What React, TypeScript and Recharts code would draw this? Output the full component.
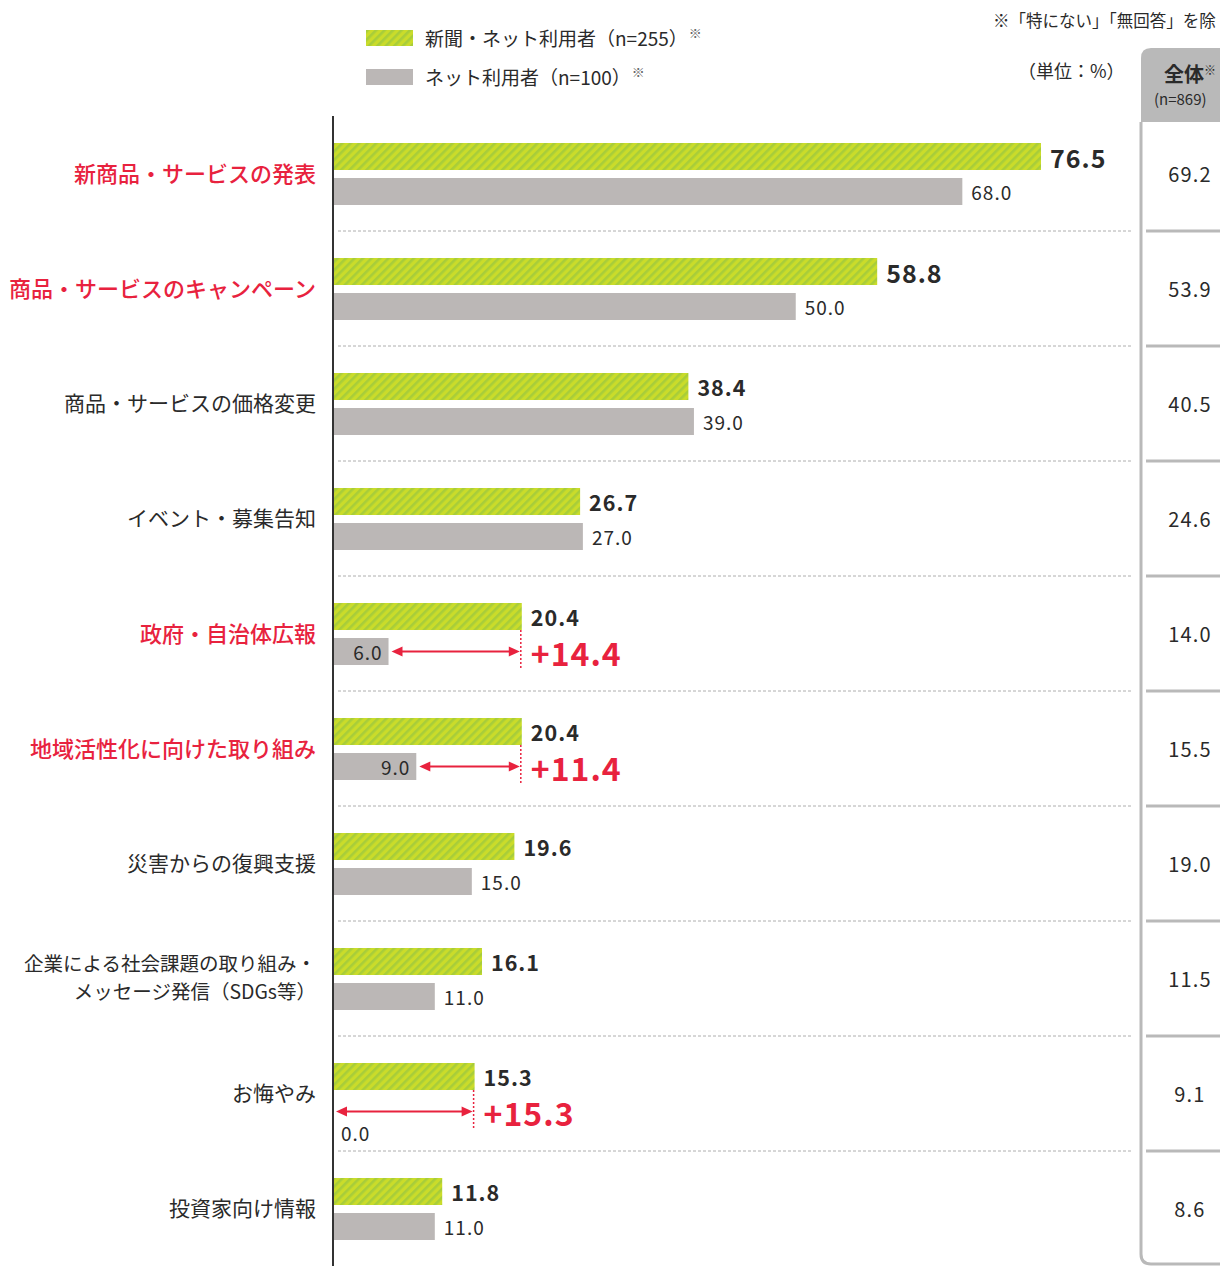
import type React from 'react';
import {
  Bar,
  BarChart,
  LabelList,
  ReferenceArea,
  XAxis,
  YAxis,
} from 'recharts';

// ============ Data ============

const CATEGORIES = [
  '新商品・サービスの発表',
  '商品・サービスのキャンペーン',
  '商品・サービスの価格変更',
  'イベント・募集告知',
  '政府・自治体広報',
  '地域活性化に向けた取り組み',
  '災害からの復興支援',
  '企業による社会課題の取り組み・\nメッセージ発信（SDGs等）',
  'お悔やみ',
  '投資家向け情報',
];

// 新聞・ネット利用者 (n=255)
const PAPER_NET = [76.5, 58.8, 38.4, 26.7, 20.4, 20.4, 19.6, 16.1, 15.3, 11.8];
// ネット利用者 (n=100)
const NET_ONLY = [68.0, 50.0, 39.0, 27.0, 6.0, 9.0, 15.0, 11.0, 0.0, 11.0];
// 全体 (n=869)
const TOTAL = [69.2, 53.9, 40.5, 24.6, 14.0, 15.5, 19.0, 11.5, 9.1, 8.6];

const RED_LABEL = [true, true, false, false, true, true, false, false, false, false];
const BIG_VALUE = [true, true, false, false, false, false, false, false, false, false];
const SHOW_GAP = [false, false, false, false, true, true, false, false, true, false];

const SERIES_NAMES = ['新聞・ネット利用者（n=255）', 'ネット利用者（n=100）'];

const data = CATEGORIES.map((name, i) => ({
  name,
  paperNet: PAPER_NET[i],
  netOnly: NET_ONLY[i],
}));

// ============ Styles ============

const FONT = "'Noto Sans CJK JP', 'Noto Sans', sans-serif";
const RED = '#e8223e';
const GRAY = '#bbb7b6';
const TEXT = '#2a2a2a';
const FRAME = '#b9b9b9';
const BAR_SIZE = 27;
const BAR_GAP = 8;
const TABLE_W = 87;

// ============ Pattern ============

const Hatch: React.FC<{ id: string }> = ({ id }) => (
  <pattern id={id} patternUnits="userSpaceOnUse" width={6} height={6} patternTransform="rotate(45)">
    <rect width={6} height={6} fill="#cadc2a" />
    <rect width={2.6} height={6} fill="#a8cd3a" />
  </pattern>
);

// ============ Ticks / labels ============

const CategoryTick = (props: any) => {
  const { x, y, payload } = props;
  const idx = CATEGORIES.indexOf(payload.value);
  const lines = String(payload.value).split('\n');
  const red = RED_LABEL[idx];
  const multi = lines.length > 1;
  const step = 28;
  return (
    <g>
      {lines.map((ln, i) => (
        <text
          key={i}
          x={x}
          y={y - 2 + (i - (lines.length - 1) / 2) * step}
          textAnchor="end"
          dominantBaseline="central"
          fontFamily={FONT}
          fontSize={red ? 22 : multi ? 19.5 : 21}
          fontWeight={red ? 500 : 400}
          fill={red ? RED : TEXT}
        >
          {ln}
        </text>
      ))}
    </g>
  );
};

const TableTick = (props: any) => {
  const { x, y, payload } = props;
  const idx = CATEGORIES.indexOf(payload.value);
  if (idx < 0) return null;
  return (
    <text
      x={x + 57}
      y={y}
      textAnchor="middle"
      dominantBaseline="central"
      fontFamily={FONT}
      fontSize={20}
      letterSpacing={1.2}
      fill={TEXT}
    >
      {TOTAL[idx].toFixed(1)}
    </text>
  );
};

const TableFrame = (props: any) => {
  const vb = props.viewBox || {};
  const x0 = vb.x + 8;
  const top = vb.y - 68;
  const hb = vb.y + 6;
  const bottom = vb.y + vb.height - 2;
  const right = vb.x + vb.width + 10;
  return (
    <g>
      <path
        d={`M${x0} ${hb} L${x0} ${top + 10} Q${x0} ${top} ${x0 + 10} ${top} L${right} ${top} L${right} ${hb} Z`}
        fill={FRAME}
      />
      <path
        d={`M${x0} ${hb} L${x0} ${bottom - 10} Q${x0} ${bottom} ${x0 + 10} ${bottom} L${right} ${bottom}`}
        fill="none"
        stroke={FRAME}
        strokeWidth={3}
      />
      <text x={x0 + 23} y={top + 34} fontFamily={FONT} fontSize={20} fontWeight={700} fill={TEXT}>
        全体<tspan fontSize={12} fontWeight={400} dy={-7}>※</tspan>
      </text>
      <text x={x0 + 13} y={top + 57} fontFamily={FONT} fontSize={15} fill={TEXT}>
        (n=869)
      </text>
    </g>
  );
};

// dashed row separator in the plot + solid separator in the table
const RowSeparator = (props: any) => {
  const { x, y, width, height } = props;
  const yy = y + height;
  return (
    <g>
      <line x1={x + 5} x2={x + width} y1={yy} y2={yy} stroke="#aeaeae" strokeDasharray="3 2" />
      <line x1={x + width + 13} x2={x + width + TABLE_W + 4} y1={yy} y2={yy} stroke={FRAME} strokeWidth={3} />
    </g>
  );
};

const Arrow: React.FC<{ x1: number; x2: number; y: number }> = ({ x1, x2, y }) => (
  <g>
    <line x1={x1 + 8} x2={x2 - 8} y1={y} y2={y} stroke={RED} strokeWidth={2} />
    <polygon points={`${x1},${y} ${x1 + 11},${y - 5} ${x1 + 11},${y + 5}`} fill={RED} />
    <polygon points={`${x2},${y} ${x2 - 11},${y - 5} ${x2 - 11},${y + 5}`} fill={RED} />
  </g>
);

const PaperNetLabel = (props: any) => {
  const { x, y, width, height, value } = props;
  const idx = CATEGORIES.indexOf(value);
  if (idx < 0) return null;
  const a = PAPER_NET[idx];
  const b = NET_ONLY[idx];
  const end = x + width;
  const cy = y + height / 2;
  const grayEnd = x + (width * b) / a;
  const grayCy = y + height + BAR_GAP + height / 2;
  return (
    <g>
      <text
        x={end + 9}
        y={cy}
        dominantBaseline="central"
        fontFamily={FONT}
        fontSize={BIG_VALUE[idx] ? 25 : 21.5}
        fontWeight={700}
        letterSpacing={1}
        fill={TEXT}
      >
        {a.toFixed(1)}
      </text>
      {SHOW_GAP[idx] && (
        <g>
          <line
            x1={end - 1}
            x2={end - 1}
            y1={y + height}
            y2={y + 2 * height + BAR_GAP + 4}
            stroke={RED}
            strokeWidth={1.5}
            strokeDasharray="2 2"
          />
          <Arrow x1={grayEnd + 3} x2={end - 2} y={grayCy} />
          <text
            x={end + 9}
            y={grayCy}
            dominantBaseline="central"
            fontFamily={FONT}
            fontSize={32}
            fontWeight={700}
            letterSpacing={1}
            fill={RED}
          >
            +{(a - b).toFixed(1)}
          </text>
          {b === 0 && (
            <text
              x={x + 8}
              y={grayCy + height / 2 + 7}
              dominantBaseline="central"
              fontFamily={FONT}
              fontSize={19}
              letterSpacing={1}
              fill={TEXT}
            >
              {b.toFixed(1)}
            </text>
          )}
        </g>
      )}
    </g>
  );
};

const NetOnlyLabel = (props: any) => {
  const { x, y, width, height, value } = props;
  const idx = CATEGORIES.indexOf(value);
  if (idx < 0) return null;
  const b = NET_ONLY[idx];
  if (b === 0) return null; // drawn with the upper bar's annotation
  const end = x + width;
  const inside = SHOW_GAP[idx];
  return (
    <text
      x={inside ? end - 6 : end + 9}
      y={y + height / 2}
      textAnchor={inside ? 'end' : 'start'}
      dominantBaseline="central"
      fontFamily={FONT}
      fontSize={19}
      letterSpacing={1}
      fill={TEXT}
    >
      {b.toFixed(1)}
    </text>
  );
};

// ============ Header / legend (HTML) ============

const LegendBlock: React.FC = () => (
  <div style={{ position: 'absolute', left: 366, top: 26, fontFamily: FONT, color: TEXT, fontSize: 19 }}>
    {SERIES_NAMES.map((name, i) => (
      <div key={name} style={{ display: 'flex', alignItems: 'center', height: 24, marginBottom: 15 }}>
        <svg width={47} height={16} style={{ marginRight: 12 }}>
          <defs>
            <Hatch id={`legend-hatch-${i}`} />
          </defs>
          <rect width={47} height={16} fill={i === 0 ? `url(#legend-hatch-${i})` : GRAY} />
        </svg>
        <span style={{ lineHeight: '24px' }}>{name}</span>
        <span style={{ fontSize: 13, lineHeight: '13px', color: '#666', alignSelf: 'flex-start', marginLeft: 1 }}>※</span>
      </div>
    ))}
  </div>
);

// ============ Main ============

const App: React.FC = () => (
  <div style={{ position: 'absolute', left: 0, top: 0, width: 1220, height: 1267, fontFamily: FONT, overflow: 'hidden' }}>
    <BarChart
      width={1220}
      height={1267}
      data={data}
      layout="vertical"
      margin={{ top: 116, right: 0, bottom: 1, left: 0 }}
      barSize={BAR_SIZE}
      barGap={BAR_GAP}
    >
      <defs>
        <Hatch id="bar-hatch" />
      </defs>
      <XAxis type="number" domain={[0, 86.44]} allowDataOverflow hide />
      <YAxis
        yAxisId={0}
        type="category"
        dataKey="name"
        width={333}
        tickSize={0}
        tickMargin={17}
        interval={0}
        axisLine={{ stroke: '#333', strokeWidth: 2 }}
        tickLine={false}
        tick={<CategoryTick />}
      />
      <YAxis
        yAxisId="tot"
        orientation="right"
        type="category"
        dataKey="name"
        interval={0}
        width={TABLE_W}
        tickSize={0}
        tickMargin={0}
        axisLine={false}
        tickLine={false}
        tick={<TableTick />}
        label={{ content: <TableFrame /> }}
      />
      {CATEGORIES.slice(0, -1).map((c) => (
        <ReferenceArea key={c} yAxisId={0} y1={c} y2={c} shape={<RowSeparator />} />
      ))}
      <Bar dataKey="paperNet" fill="url(#bar-hatch)" isAnimationActive={false}>
        <LabelList dataKey="name" content={<PaperNetLabel />} />
      </Bar>
      <Bar dataKey="netOnly" fill={GRAY} isAnimationActive={false}>
        <LabelList dataKey="name" content={<NetOnlyLabel />} />
      </Bar>
    </BarChart>
    <LegendBlock />
    <div style={{ position: 'absolute', left: 993, top: 8, fontSize: 16.5, color: TEXT, whiteSpace: 'nowrap' }}>
      ※「特にない」「無回答」を除
    </div>
    <div style={{ position: 'absolute', left: 1018, top: 57, fontSize: 18, color: TEXT, whiteSpace: 'nowrap' }}>
      （単位：%）
    </div>
  </div>
);

export default App;
